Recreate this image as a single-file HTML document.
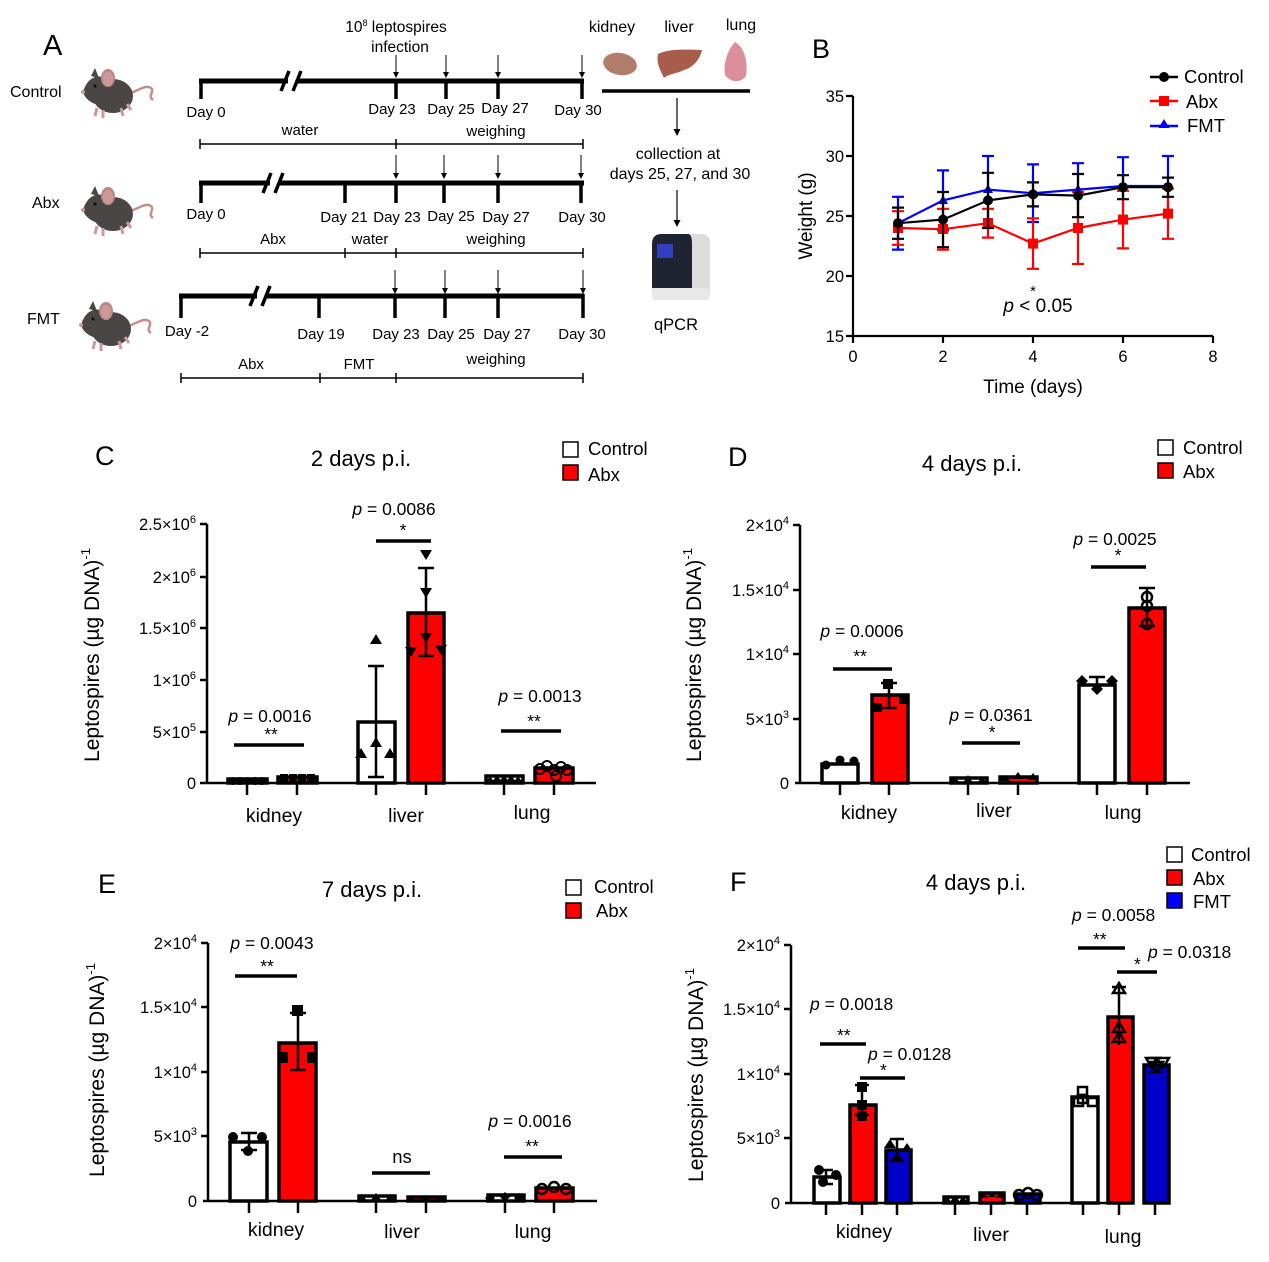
<!DOCTYPE html>
<html><head><meta charset="utf-8"><style>
html,body{margin:0;padding:0;background:#fff}
svg{display:block}
text{font-family:"Liberation Sans",Arial,sans-serif;fill:#000}
</style></head><body>
<svg width="1269" height="1262" viewBox="0 0 1269 1262" xmlns="http://www.w3.org/2000/svg">
<defs>
<g id="mouse">
 <path d="M52,30 C62,28 70,20 76,24 C80,28 72,32 78,36" fill="none" stroke="#c98c8c" stroke-width="2.5"/>
 <ellipse cx="38" cy="32" rx="20" ry="17" fill="#4a4646"/>
 <path d="M8,28 C12,14 22,10 30,14 L40,24 L30,42 C20,42 10,36 8,28Z" fill="#4a4646"/>
 <path d="M16,12 L20,4 L24,14Z" fill="#4a4646"/>
 <ellipse cx="33" cy="14" rx="7" ry="9" fill="#b88"/>
 <ellipse cx="33" cy="15" rx="5" ry="7" fill="#c99"/>
 <circle cx="20" cy="22" r="1.6" fill="#111"/>
 <circle cx="8" cy="28" r="2" fill="#c99"/>
 <path d="M22,44 L20,52 M28,46 L28,54 M46,44 L48,52 M52,40 L56,46" stroke="#c99" stroke-width="3"/>
</g>
</defs>

<!-- ============ PANEL A ============ -->
<text x="43" y="55" font-size="29">A</text>
<text x="10" y="97" font-size="16">Control</text>
<text x="32" y="208" font-size="16">Abx</text>
<text x="27" y="324" font-size="16">FMT</text>
<use href="#mouse" x="75" y="64"/>
<use href="#mouse" x="75" y="182"/>
<use href="#mouse" x="73" y="297"/>

<text x="396" y="32" font-size="15.5" text-anchor="middle">10<tspan dy="-6" font-size="9">8</tspan><tspan dy="6"> leptospires</tspan></text>
<text x="400" y="52" font-size="15.5" text-anchor="middle">infection</text>

<g stroke="#000" fill="none">
 <line x1="199" y1="81" x2="584" y2="81" stroke-width="5"/>
 <path d="M201,79V99 M396,79V99 M446,79V99 M498,79V99 M582,79V99" stroke-width="3.5"/>
 <line x1="199" y1="183" x2="584" y2="183" stroke-width="5"/>
 <path d="M201,181V203 M345,181V203 M396,181V203 M444,181V203 M498,181V203 M581,181V203" stroke-width="3.5"/>
 <line x1="179" y1="296" x2="584" y2="296" stroke-width="5"/>
 <path d="M181,294V318 M319,294V318 M395,294V318 M445,294V318 M498,294V318 M583,294V318" stroke-width="3.5"/>
 <path d="M200,144H583 M200,139V149 M396,139V149 M583,139V149" stroke-width="1.5"/>
 <path d="M200,253H583 M200,248V258 M345,248V258 M396,248V258 M583,248V258" stroke-width="1.5"/>
 <path d="M181,378H583 M181,373V383 M320,373V383 M396,373V383 M583,373V383" stroke-width="1.5"/>
 <path d="M396,55V76 M446,55V76 M498,55V76 M582,55V76 M396,155V177 M444,155V177 M498,155V177 M581,155V177 M395,270V292 M445,270V292 M498,270V292 M583,270V292" stroke-width="1"/>
 <path d="M677,98V133 M677,190V224" stroke-width="1.2"/>
 <line x1="602" y1="91" x2="750" y2="91" stroke-width="3.5"/>
</g>
<!-- break marks -->
<rect x="288" y="76" width="9" height="10" fill="#fff"/>
<rect x="270" y="178" width="9" height="10" fill="#fff"/>
<rect x="257" y="291" width="9" height="10" fill="#fff"/>
<g stroke="#000" stroke-width="3.5">
 <path d="M281,91 L289,71 M293,91 L301,71"/>
 <path d="M263,193 L271,173 M275,193 L283,173"/>
 <path d="M250,306 L258,286 M262,306 L270,286"/>
</g>
<g fill="#000">
 <path d="M396,78l-3,-6h6z M446,78l-3,-6h6z M498,78l-3,-6h6z M582,78l-3,-6h6z M396,179l-3,-6h6z M444,179l-3,-6h6z M498,179l-3,-6h6z M581,179l-3,-6h6z M395,294l-3,-6h6z M445,294l-3,-6h6z M498,294l-3,-6h6z M583,294l-3,-6h6z M677,136l-3.5,-7h7z M677,227l-3.5,-7h7z"/>
</g>
<g font-size="15" text-anchor="middle">
 <text x="206" y="117">Day 0</text><text x="392" y="114">Day 23</text><text x="451" y="114">Day 25</text><text x="505" y="113">Day 27</text><text x="578" y="115">Day 30</text>
 <text x="300" y="135">water</text><text x="496" y="136">weighing</text>
 <text x="206" y="219">Day 0</text><text x="344" y="222">Day 21</text><text x="397" y="222">Day 23</text><text x="451" y="221">Day 25</text><text x="506" y="222">Day 27</text><text x="582" y="222">Day 30</text>
 <text x="273" y="244">Abx</text><text x="370" y="244">water</text><text x="496" y="244">weighing</text>
 <text x="187" y="336">Day -2</text><text x="321" y="339">Day 19</text><text x="396" y="339">Day 23</text><text x="451" y="339">Day 25</text><text x="507" y="339">Day 27</text><text x="582" y="339">Day 30</text>
 <text x="251" y="369">Abx</text><text x="359" y="369">FMT</text><text x="496" y="364">weighing</text>
 <text x="612" y="32" font-size="16">kidney</text><text x="679" y="32" font-size="16">liver</text><text x="741" y="30" font-size="16">lung</text>
 <text x="678" y="159" font-size="16">collection at</text><text x="680" y="179" font-size="16">days 25, 27, and 30</text>
 <text x="676" y="330" font-size="16.5">qPCR</text>
</g>
<ellipse cx="620" cy="64" rx="17" ry="11" fill="#b07d6a" transform="rotate(10 620 64)"/>
<path d="M658,54 C670,48 690,50 702,50 C700,60 692,68 684,70 C676,74 668,74 664,78 C660,70 656,62 658,54Z" fill="#a95c4c"/>
<path d="M735,42 C745,48 748,62 746,76 C740,84 730,82 725,75 C723,62 728,50 735,42Z" fill="#dc8f98"/>
<rect x="652" y="234" width="58" height="66" rx="8" fill="#dcdcdc"/>
<path d="M652,244 Q652,234 662,234 L688,234 Q692,234 692,244 L692,288 L652,288Z" fill="#1f2433"/>
<rect x="657" y="244" width="16" height="14" fill="#2f3fc0"/>
<rect x="652" y="288" width="58" height="12" rx="4" fill="#e8e8e8"/>

<!-- ============ PANEL B ============ -->
<text x="812" y="58" font-size="27">B</text>
<g stroke="#000" stroke-width="2.2" fill="none">
 <path d="M853,96V336H1213"/>
 <path d="M846,96H853 M846,156H853 M846,216H853 M846,276H853 M846,336H853"/>
 <path d="M853,336V343 M943,336V343 M1033,336V343 M1123,336V343 M1213,336V343"/>
</g>
<g font-size="16.5" text-anchor="end">
 <text x="844" y="102">35</text><text x="844" y="162">30</text><text x="844" y="222">25</text><text x="844" y="282">20</text><text x="844" y="342">15</text>
</g>
<g font-size="16.5" text-anchor="middle">
 <text x="853" y="362">0</text><text x="943" y="362">2</text><text x="1033" y="362">4</text><text x="1123" y="362">6</text><text x="1213" y="362">8</text>
</g>
<text x="1033" y="393" font-size="19" text-anchor="middle">Time (days)</text>
<text transform="translate(812,216) rotate(-90)" font-size="19" text-anchor="middle">Weight (g)</text>
<g stroke="#00f" stroke-width="2.2" fill="none">
 <path d="M898,196.8V249.6 M892,196.8H904 M892,249.6H904 M943,170.4V230.4 M937,170.4H949 M988,156V223.2 M982,156H994 M1033,164.4V222 M1027,164.4H1039 M1078,163.2V216 M1072,163.2H1084 M1123,157.2V214.8 M1117,157.2H1129 M1168,156V216 M1162,156H1174 M937,230.4H949 M1027,222H1039"/>
 <polyline points="898,223.2 943,200.4 988,189.6 1033,193.2 1078,189.6 1123,186 1168,186"/>
</g>
<g fill="#00f"><path d="M898,218l-5,9h10z M943,195l-5,9h10z M988,184l-5,9h10z M1033,188l-5,9h10z M1078,184l-5,9h10z M1123,181l-5,9h10z M1168,181l-5,9h10z"/></g>
<g stroke="#f00" stroke-width="2.2" fill="none">
 <path d="M898,211.2V244.8 M892,211.2H904 M892,244.8H904 M943,208.8V249.6 M937,208.8H949 M937,249.6H949 M988,208.8V237.6 M982,208.8H994 M982,237.6H994 M1033,218.4V268.8 M1027,218.4H1039 M1027,268.8H1039 M1078,192V264 M1072,192H1084 M1072,264H1084 M1123,190.8V248.4 M1117,190.8H1129 M1117,248.4H1129 M1168,188.4V238.8 M1162,188.4H1174 M1162,238.8H1174"/>
 <polyline points="898,228 943,229.2 988,223.2 1033,243.6 1078,228 1123,219.6 1168,213.6"/>
</g>
<g fill="#f00"><rect x="893" y="223" width="10" height="10"/><rect x="938" y="224" width="10" height="10"/><rect x="983" y="218" width="10" height="10"/><rect x="1028" y="238.6" width="10" height="10"/><rect x="1073" y="223" width="10" height="10"/><rect x="1118" y="214.6" width="10" height="10"/><rect x="1163" y="208.6" width="10" height="10"/></g>
<g stroke="#000" stroke-width="2.2" fill="none">
 <path d="M898,207.6V238.8 M892,207.6H904 M892,238.8H904 M943,192V247.2 M937,192H949 M937,247.2H949 M988,172.8V228 M982,172.8H994 M982,228H994 M1033,182.4V206.4 M1027,182.4H1039 M1027,206.4H1039 M1078,174V217.2 M1072,174H1084 M1072,217.2H1084 M1123,175.2V199.2 M1117,175.2H1129 M1117,199.2H1129 M1168,177.6V196.8 M1162,177.6H1174 M1162,196.8H1174"/>
 <polyline points="898,223.2 943,219.6 988,200.4 1033,194.4 1078,195.6 1123,187.2 1168,187.2"/>
</g>
<g fill="#000"><circle cx="898" cy="223.2" r="5"/><circle cx="943" cy="219.6" r="5"/><circle cx="988" cy="200.4" r="5"/><circle cx="1033" cy="194.4" r="5"/><circle cx="1078" cy="195.6" r="5"/><circle cx="1123" cy="187.2" r="5"/><circle cx="1168" cy="187.2" r="5"/></g>
<text x="1033" y="296" font-size="15" text-anchor="middle">*</text>
<text x="1038" y="312" font-size="19" text-anchor="middle"><tspan font-style="italic">p</tspan> &lt; 0.05</text>
<g stroke-width="2.5" fill="none"><line x1="1150" y1="77" x2="1178" y2="77" stroke="#000"/><line x1="1150" y1="101" x2="1178" y2="101" stroke="#f00"/><line x1="1150" y1="126" x2="1178" y2="126" stroke="#00f"/></g>
<circle cx="1164" cy="77" r="5"/><rect x="1159" y="96" width="10" height="10" fill="#f00"/><path d="M1164,119l-5.5,9h11z" fill="#00f"/>
<g font-size="18.5"><text x="1184" y="83">Control</text><text x="1186" y="108">Abx</text><text x="1187" y="132">FMT</text></g>

<!-- ============ PANEL C ============ -->
<text x="95" y="465" font-size="27">C</text>
<text x="361" y="466" font-size="22" text-anchor="middle">2 days p.i.</text>
<rect x="563" y="442" width="15" height="15" fill="#fff" stroke="#000" stroke-width="1.5"/>
<rect x="563" y="465" width="15" height="15" fill="#f00" stroke="#000" stroke-width="1.5"/>
<text x="588" y="455" font-size="18.5">Control</text><text x="588" y="481" font-size="18.5">Abx</text>
<g stroke="#000" stroke-width="2.5" fill="none">
 <path d="M207,524V783 M200,783H596"/>
 <path d="M200,524H207 M200,577H207 M200,628H207 M200,680H207 M200,732H207"/>
 <path d="M247,783V795 M297,783V795 M376,783V795 M426,783V795 M504,783V795 M554,783V795"/>
</g>
<g font-size="16.5" text-anchor="end">
 <text x="196" y="530">2.5×10<tspan dy="-7" font-size="11">6</tspan></text>
 <text x="196" y="583">2×10<tspan dy="-7" font-size="11">6</tspan></text>
 <text x="196" y="634">1.5×10<tspan dy="-7" font-size="11">6</tspan></text>
 <text x="196" y="686">1×10<tspan dy="-7" font-size="11">6</tspan></text>
 <text x="196" y="738">5×10<tspan dy="-7" font-size="11">5</tspan></text>
 <text x="196" y="789">0</text>
</g>
<text transform="translate(99,655) rotate(-90)" font-size="21" text-anchor="middle">Leptospires (µg DNA)<tspan dy="-9" font-size="13">-1</tspan></text>
<g stroke="#000" stroke-width="3.5">
 <rect x="228" y="779" width="39" height="4" fill="#fff"/>
 <rect x="278" y="777" width="39" height="6" fill="#f00"/>
 <rect x="358" y="722" width="37" height="61" fill="#fff"/>
 <rect x="408" y="613" width="36" height="170" fill="#f00"/>
 <rect x="486" y="776" width="37" height="7" fill="#fff"/>
 <rect x="535" y="768" width="38" height="15" fill="#f00"/>
</g>
<g stroke="#000" stroke-width="2.5" fill="none">
 <path d="M376,666V777 M368,666H384 M368,777H384"/>
 <path d="M426,568V656 M418,568H434 M418,656H434"/>
</g>
<g fill="#000">
 <circle cx="233" cy="781" r="4"/><circle cx="240" cy="781" r="4"/><circle cx="247" cy="781" r="4"/><circle cx="255" cy="781" r="4"/><circle cx="262" cy="781" r="4"/>
 <rect x="280" y="774" width="8" height="8"/><rect x="289" y="774" width="8" height="8"/><rect x="298" y="774" width="8" height="8"/><rect x="307" y="774" width="8" height="8"/>
 <path d="M376,634l-6,10h12z M376,737l-6,10h12z M361,748l-6,10h12z M390,748l-6,10h12z"/>
 <path d="M426,560l-6,-10h12z M426,598l-6,-10h12z M426,643l-6,-10h12z M411,657l-6,-10h12z M441,655l-6,-10h12z"/>
 <path d="M490,776l-5,7h10z M497,775l-5,7h10z M504,775l-5,7h10z M511,775l-5,7h10z M518,776l-5,7h10z"/>
</g>
<g fill="none" stroke="#000" stroke-width="2"><circle cx="540" cy="769" r="5"/><circle cx="547" cy="766" r="5"/><circle cx="554" cy="770" r="5"/><circle cx="561" cy="767" r="5"/><circle cx="567" cy="770" r="5"/><circle cx="556" cy="776" r="5"/></g>
<g stroke="#000" stroke-width="3.5"><path d="M234,745H304 M376,541H431 M501,731H561"/></g>
<g font-size="17.5" text-anchor="middle">
 <text x="270" y="722"><tspan font-style="italic">p</tspan> = 0.0016</text><text x="271" y="740">**</text>
 <text x="394" y="515"><tspan font-style="italic">p</tspan> = 0.0086</text><text x="403" y="536">*</text>
 <text x="540" y="702"><tspan font-style="italic">p</tspan> = 0.0013</text><text x="534" y="727">**</text>
</g>
<g font-size="19.5" text-anchor="middle"><text x="274" y="822">kidney</text><text x="406" y="822">liver</text><text x="532" y="819">lung</text></g>

<!-- ============ PANEL D ============ -->
<text x="728" y="466" font-size="27">D</text>
<text x="972" y="471" font-size="22" text-anchor="middle">4 days p.i.</text>
<rect x="1158" y="440" width="15" height="15" fill="#fff" stroke="#000" stroke-width="1.5"/>
<rect x="1158" y="463" width="15" height="15" fill="#f00" stroke="#000" stroke-width="1.5"/>
<text x="1183" y="454" font-size="18.5">Control</text><text x="1183" y="478" font-size="18.5">Abx</text>
<g stroke="#000" stroke-width="2.5" fill="none">
 <path d="M800,525V783 M795,783H1190"/>
 <path d="M793,525H800 M793,590H800 M793,654H800 M793,719H800"/>
 <path d="M840,783V795 M889,783V795 M968,783V795 M1018,783V795 M1097,783V795 M1147,783V795"/>
</g>
<g font-size="16.5" text-anchor="end">
 <text x="789" y="531">2×10<tspan dy="-7" font-size="11">4</tspan></text>
 <text x="789" y="596">1.5×10<tspan dy="-7" font-size="11">4</tspan></text>
 <text x="789" y="660">1×10<tspan dy="-7" font-size="11">4</tspan></text>
 <text x="789" y="725">5×10<tspan dy="-7" font-size="11">3</tspan></text>
 <text x="789" y="789">0</text>
</g>
<text transform="translate(701,655) rotate(-90)" font-size="21" text-anchor="middle">Leptospires (µg DNA)<tspan dy="-9" font-size="13">-1</tspan></text>
<g stroke="#000" stroke-width="3.5">
 <rect x="822" y="764" width="36" height="19" fill="#fff"/>
 <rect x="872" y="695" width="36" height="88" fill="#f00"/>
 <rect x="951" y="778" width="36" height="5" fill="#fff"/>
 <rect x="1000" y="777" width="37" height="6" fill="#f00"/>
 <rect x="1079" y="685" width="36" height="98" fill="#fff"/>
 <rect x="1129" y="608" width="36" height="175" fill="#f00"/>
</g>
<g stroke="#000" stroke-width="2.5" fill="none">
 <path d="M889,683V708 M881,683H897 M881,708H897"/>
 <path d="M1147,588V626 M1139,588H1155 M1139,626H1155"/>
 <path d="M1097,677V690 M1089,677H1105"/>
 <circle cx="1147" cy="597" r="5"/><circle cx="1147" cy="606" r="5"/><circle cx="1147" cy="624" r="5"/>
</g>
<g fill="#000">
 <circle cx="826" cy="765" r="4.5"/><circle cx="840" cy="760" r="4.5"/><circle cx="854" cy="761" r="4.5"/>
 <rect x="883" y="679" width="10" height="10"/><rect x="873" y="703" width="9" height="9"/><rect x="899" y="695" width="9" height="9"/>
 <path d="M955,777l-5,6h10z M968,775l-5,8h10z M982,777l-5,6h10z M1005,775l5,6h-10z M1018,772l5,7h-10z M1033,773l5,7h-10z"/>
 <path d="M1082,675l6,6l-6,6l-6,-6z M1112,675l6,6l-6,6l-6,-6z M1097,683l6,6l-6,6l-6,-6z"/>
</g>
<g stroke="#000" stroke-width="3.5"><path d="M833,669H892 M962,743H1020 M1091,567H1146"/></g>
<g font-size="17.5" text-anchor="middle">
 <text x="862" y="637"><tspan font-style="italic">p</tspan> = 0.0006</text><text x="860" y="662">**</text>
 <text x="991" y="721"><tspan font-style="italic">p</tspan> = 0.0361</text><text x="992" y="738">*</text>
 <text x="1115" y="545"><tspan font-style="italic">p</tspan> = 0.0025</text><text x="1118" y="561">*</text>
</g>
<g font-size="19.5" text-anchor="middle"><text x="869" y="819">kidney</text><text x="994" y="817">liver</text><text x="1123" y="819">lung</text></g>

<!-- ============ PANEL E ============ -->
<text x="98" y="893" font-size="27">E</text>
<text x="372" y="897" font-size="22" text-anchor="middle">7 days p.i.</text>
<rect x="566" y="880" width="15" height="15" fill="#fff" stroke="#000" stroke-width="1.5"/>
<rect x="566" y="903" width="15" height="15" fill="#f00" stroke="#000" stroke-width="1.5"/>
<text x="594" y="893" font-size="18.5">Control</text><text x="596" y="917" font-size="18.5">Abx</text>
<g stroke="#000" stroke-width="2.5" fill="none">
 <path d="M208,943V1201 M203,1201H597"/>
 <path d="M201,943H208 M201,1007H208 M201,1072H208 M201,1136H208"/>
 <path d="M249,1201V1213 M298,1201V1213 M376,1201V1213 M426,1201V1213 M505,1201V1213 M554,1201V1213"/>
</g>
<g font-size="16.5" text-anchor="end">
 <text x="197" y="949">2×10<tspan dy="-7" font-size="11">4</tspan></text>
 <text x="197" y="1013">1.5×10<tspan dy="-7" font-size="11">4</tspan></text>
 <text x="197" y="1078">1×10<tspan dy="-7" font-size="11">4</tspan></text>
 <text x="197" y="1142">5×10<tspan dy="-7" font-size="11">3</tspan></text>
 <text x="197" y="1207">0</text>
</g>
<text transform="translate(104,1070) rotate(-90)" font-size="21" text-anchor="middle">Leptospires (µg DNA)<tspan dy="-9" font-size="13">-1</tspan></text>
<g stroke="#000" stroke-width="3.5">
 <rect x="230" y="1142" width="37" height="59" fill="#fff"/>
 <rect x="279" y="1043" width="37" height="158" fill="#f00"/>
 <rect x="359" y="1196" width="36" height="5" fill="#fff"/>
 <rect x="408" y="1197" width="37" height="4" fill="#f00"/>
 <rect x="488" y="1195" width="36" height="6" fill="#fff"/>
 <rect x="536" y="1188" width="37" height="13" fill="#f00"/>
</g>
<g stroke="#000" stroke-width="2.5" fill="none">
 <path d="M298,1013V1070 M290,1013H306 M290,1070H306"/>
 <path d="M249,1133V1150 M241,1133H257 M241,1150H257"/>
 <circle cx="542" cy="1189" r="5"/><circle cx="554" cy="1187" r="5"/><circle cx="566" cy="1189" r="5"/>
</g>
<g fill="#000">
 <circle cx="233" cy="1137" r="5"/><circle cx="262" cy="1137" r="5"/><circle cx="248" cy="1151" r="5"/>
 <rect x="292" y="1005" width="11" height="11"/><rect x="279" y="1052" width="9" height="11"/><rect x="307" y="1052" width="9" height="11"/>
 <path d="M362,1194l-5,7h10z M376,1193l-5,7h10z M390,1194l-5,7h10z M411,1196l5,6h-10z M426,1195l5,6h-10z M440,1196l5,6h-10z"/>
 <path d="M490,1193l5,5l-5,5l-5,-5z M505,1192l5,5l-5,5l-5,-5z M519,1193l5,5l-5,5l-5,-5z"/>
</g>
<g stroke="#000" stroke-width="3.5"><path d="M235,976H297 M372,1173H430 M504,1157H562"/></g>
<g font-size="17.5" text-anchor="middle">
 <text x="272" y="949"><tspan font-style="italic">p</tspan> = 0.0043</text><text x="267" y="972">**</text>
 <text x="402" y="1163" font-size="18.5">ns</text>
 <text x="530" y="1127"><tspan font-style="italic">p</tspan> = 0.0016</text><text x="532" y="1152">**</text>
</g>
<g font-size="19.5" text-anchor="middle"><text x="276" y="1236">kidney</text><text x="402" y="1238">liver</text><text x="533" y="1238">lung</text></g>

<!-- ============ PANEL F ============ -->
<text x="730" y="891" font-size="27">F</text>
<text x="976" y="890" font-size="22" text-anchor="middle">4 days p.i.</text>
<rect x="1167" y="847" width="15" height="15" fill="#fff" stroke="#000" stroke-width="1.5"/>
<rect x="1167" y="870" width="15" height="15" fill="#f00" stroke="#000" stroke-width="1.5"/>
<rect x="1167" y="893" width="15" height="15" fill="#00f" stroke="#000" stroke-width="1.5"/>
<text x="1191" y="861" font-size="18.5">Control</text><text x="1193" y="885" font-size="18.5">Abx</text><text x="1193" y="908" font-size="18.5">FMT</text>
<g stroke="#000" stroke-width="2.5" fill="none">
 <path d="M791,945V1203 M785,1203H1128"/>
 <path d="M784,945H791 M784,1009H791 M784,1074H791 M784,1138H791"/>
 <path d="M826,1203V1215 M862,1203V1215 M897,1203V1215 M955,1203V1215 M991,1203V1215 M1027,1203V1215 M1083,1203V1215 M1119,1203V1215 M1155,1203V1215"/>
</g>
<g font-size="16.5" text-anchor="end">
 <text x="780" y="951">2×10<tspan dy="-7" font-size="11">4</tspan></text>
 <text x="780" y="1015">1.5×10<tspan dy="-7" font-size="11">4</tspan></text>
 <text x="780" y="1080">1×10<tspan dy="-7" font-size="11">4</tspan></text>
 <text x="780" y="1144">5×10<tspan dy="-7" font-size="11">3</tspan></text>
 <text x="780" y="1209">0</text>
</g>
<text transform="translate(703,1075) rotate(-90)" font-size="21" text-anchor="middle">Leptospires (µg DNA)<tspan dy="-9" font-size="13">-1</tspan></text>
<g stroke="#000" stroke-width="3.5">
 <rect x="814" y="1177" width="26" height="26" fill="#fff"/>
 <rect x="850" y="1105" width="26" height="98" fill="#f00"/>
 <rect x="886" y="1150" width="25" height="53" fill="#0000c8"/>
 <rect x="944" y="1197" width="24" height="6" fill="#fff"/>
 <rect x="980" y="1193" width="24" height="10" fill="#f00"/>
 <rect x="1016" y="1194" width="24" height="9" fill="#0000c8"/>
 <rect x="1072" y="1097" width="26" height="106" fill="#fff"/>
 <rect x="1108" y="1017" width="25" height="186" fill="#f00"/>
 <rect x="1144" y="1065" width="25" height="138" fill="#0000c8"/>
</g>
<g stroke="#000" stroke-width="2.5" fill="none">
 <path d="M826,1170V1184 M819,1170H833 M819,1184H833"/>
 <path d="M862,1085V1115 M855,1085H869 M855,1115H869"/>
 <path d="M897,1139V1161 M890,1139H904 M890,1161H904"/>
 <path d="M1119,987V1045 M1112,987H1126"/>
 <path d="M1155,1058V1072 M1148,1058H1162 M1148,1072H1162"/>
 <rect x="1078" y="1087" width="9" height="8"/><rect x="1078" y="1095" width="9" height="8"/><rect x="1074" y="1098" width="9" height="8"/><rect x="1088" y="1098" width="9" height="8"/>
 <path d="M1119,983l-6,10h12z M1119,1022l-6,10h12z M1119,1032l-6,10h12z"/>
 <path d="M1146,1058h12l-6,10z M1157,1058h12l-6,10z M1151,1062h12l-6,10z"/>
 <circle cx="1019" cy="1195" r="5"/><circle cx="1028" cy="1193" r="5"/><circle cx="1037" cy="1195" r="5"/>
</g>
<g fill="#000">
 <circle cx="819" cy="1170" r="5"/><circle cx="836" cy="1175" r="5"/><circle cx="823" cy="1182" r="5"/>
 <rect x="857" y="1082" width="10" height="10"/><rect x="857" y="1100" width="10" height="10"/><rect x="857" y="1111" width="10" height="10"/>
 <path d="M890,1139l-6,9h12z M907,1143l-6,9h12z M897,1152l-6,9h12z"/>
 <path d="M947,1196l-5,7h10z M955,1195l-5,7h10z M963,1196l-5,7h10z M984,1192l-4,6h8z M992,1191l-4,6h8z M1000,1192l-4,6h8z"/>
</g>
<g stroke="#000" stroke-width="3.5"><path d="M820,1044H866 M860,1078H905 M1078,948H1125 M1117,972H1157"/></g>
<g font-size="17.5">
 <text x="810" y="1010"><tspan font-style="italic">p</tspan> = 0.0018</text><text x="837" y="1041">**</text>
 <text x="868" y="1060"><tspan font-style="italic">p</tspan> = 0.0128</text><text x="880" y="1076">*</text>
 <text x="1072" y="921"><tspan font-style="italic">p</tspan> = 0.0058</text><text x="1093" y="945">**</text>
 <text x="1148" y="958"><tspan font-style="italic">p</tspan> = 0.0318</text><text x="1134" y="970">*</text>
</g>
<g font-size="19.5" text-anchor="middle"><text x="864" y="1238">kidney</text><text x="991" y="1241">liver</text><text x="1123" y="1243">lung</text></g>
</svg>
</body></html>
